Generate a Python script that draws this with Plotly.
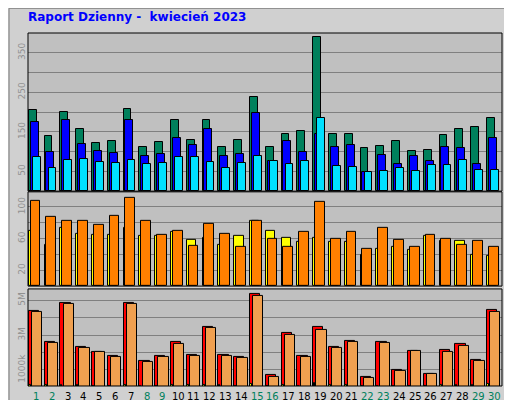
import plotly.graph_objects as go

days = list(range(1, 31))
weekend = [1, 2, 8, 9, 15, 16, 22, 23, 29, 30]
hits = [204,139,199,158,122,126,209,112,125,181,130,181,112,130,238,112,145,153,391,145,145,109,115,127,102,104,143,156,161,186]
files = [174,99,181,120,102,97,179,89,94,135,117,156,89,94,197,76,127,99,145,112,117,48,91,68,89,76,112,109,68,135]
pages = [86,58,79,81,74,71,79,68,71,86,86,74,58,71,89,76,68,76,186,63,61,48,50,58,50,66,66,79,53,53]
visits = [70,52,73,66,65,65,73,63,63,69,59,61,52,63,83,70,61,56,61,56,56,40,47,49,46,63,57,57,40,38]
sites = [108,88,82,83,77,89,112,83,65,70,51,78,66,50,83,60,49,68,106,60,69,47,74,59,49,65,60,52,57,50]
kb_total = [4.42,2.61,4.83,2.32,2.03,1.80,4.88,1.50,1.80,2.61,1.85,3.49,1.85,1.74,5.35,0.69,3.14,1.80,3.49,2.32,2.67,0.63,2.61,0.98,2.09,0.75,2.15,2.50,1.56,4.48]
kb_in = [0.16,0.12,0.16,0.14,0.10,0.10,0.16,0.10,0.10,0.12,0.14,0.12,0.12,0.10,0.22,0.08,0.14,0.10,0.26,0.14,0.14,0.08,0.10,0.08,0.10,0.08,0.12,0.12,0.14,0.22]
kb_out = [4.36,2.55,4.77,2.26,2.03,1.74,4.77,1.45,1.74,2.50,1.80,3.43,1.80,1.68,5.23,0.63,3.02,1.74,3.31,2.26,2.61,0.56,2.55,0.92,2.09,0.75,2.03,2.38,1.50,4.36]

fig = go.Figure()
def bar(y, color, off, w, ax):
    fig.add_trace(go.Bar(x=days, y=y, offset=off, width=w, marker=dict(color=color, line=dict(color="black", width=1)),
                         xaxis="x", yaxis=ax, showlegend=False))
bar(hits, "#00805C", -0.45, 0.5, "y")
bar(files, "#0000FF", -0.33, 0.5, "y")
bar(pages, "#00E0FF", -0.2, 0.5, "y")
bar(visits, "#FFFF00", -0.45, 0.6, "y2")
bar(sites, "#FF8000", -0.33, 0.62, "y2")
bar(kb_total, "#FF0000", -0.45, 0.65, "y3")
bar(kb_out, "#F0A050", -0.25, 0.65, "y3")
bar(kb_in, "#FFFF00", -0.42, 0.1, "y3")

axfont = dict(size=9, color="#909090", family="DejaVu Sans")
common = dict(gridcolor="#808080", tickangle=-90, tickfont=axfont, showline=False, zeroline=False,
              ticks="", automargin=False, ticklabelstandoff=0)
fig.update_layout(
    width=512, height=400, margin=dict(l=20, r=18, t=25, b=22, autoexpand=False),
    paper_bgcolor="#D0D0D0", plot_bgcolor="#C0C0C0", barmode="overlay", bargap=0,
    xaxis=dict(range=[0.5, 30.5], showticklabels=False, showgrid=False, zeroline=False, automargin=False),
    yaxis=dict(domain=[0.552, 1], range=[0, 400], tickvals=[50,100,150,200,250,300,350],
               ticktext=["50","","150","","250","","350"], **common),
    yaxis2=dict(domain=[0.283, 0.55], range=[0, 119], tickvals=[20,40,60,80,100],
                ticktext=["20","","60","","100"], anchor="x", **common),
    yaxis3=dict(domain=[0, 0.275], range=[0.08, 5.66], tickvals=[1,2,3,4,5],
                ticktext=["1000k","","3M","","5M"], anchor="x", **common),
)
shapes = []
for d0, d1 in [(0.552, 1), (0.283, 0.55), (0, 0.275)]:
    shapes.append(dict(type="rect", xref="paper", yref="paper", x0=0, x1=1, y0=d0, y1=d1,
                       line=dict(color="black", width=1)))
shapes.append(dict(type="rect", xref="paper", yref="paper", x0=-0.04, x1=1.035, y0=-0.06, y1=1.07,
                   line=dict(color="#808080", width=1)))
fig.update_layout(shapes=shapes)

ann = [dict(text="<b>Raport Dzienny -  kwiecień 2023</b>", xref="paper", yref="paper", x=-0.005, y=1.072,
            xanchor="left", yanchor="bottom", showarrow=False, yshift=-18,
            font=dict(size=12, color="#0000FF", family="DejaVu Sans"))]
for d in days:
    ann.append(dict(text=str(d), x=d, xref="x", yref="paper", y=-0.008, yanchor="top", showarrow=False,
                    font=dict(size=10, family="DejaVu Sans", color="#00805C" if d in weekend else "black")))
ann.append(dict(text="<span style='color:#00E0FF'>Strony</span>/<span style='color:#0000FF'>Pliki</span>/<span style='color:#00805C'>Wywołania</span>",
                textangle=-90, xref="paper", yref="paper", x=1.003, y=1.0, xanchor="left", yanchor="top",
                showarrow=False, font=dict(size=11, family="DejaVu Sans")))
ann.append(dict(text="<span style='color:#FFFF00'>Wizyty</span>/<span style='color:#FF8000'>Lokalizacje</span>",
                textangle=-90, xref="paper", yref="paper", x=1.003, y=0.59, xanchor="left", yanchor="top",
                showarrow=False, font=dict(size=11, family="DejaVu Sans")))
ann.append(dict(text="<span style='color:#FF0000'>Transfer</span><span style='color:#C0E000'> /IN </span><span style='color:#FF8000'>/OUT</span>",
                textangle=-90, xref="paper", yref="paper", x=1.003, y=0.0, xanchor="left", yanchor="bottom",
                showarrow=False, font=dict(size=11, family="DejaVu Sans")))
fig.update_layout(annotations=ann)
fig.write_html("out.html")
